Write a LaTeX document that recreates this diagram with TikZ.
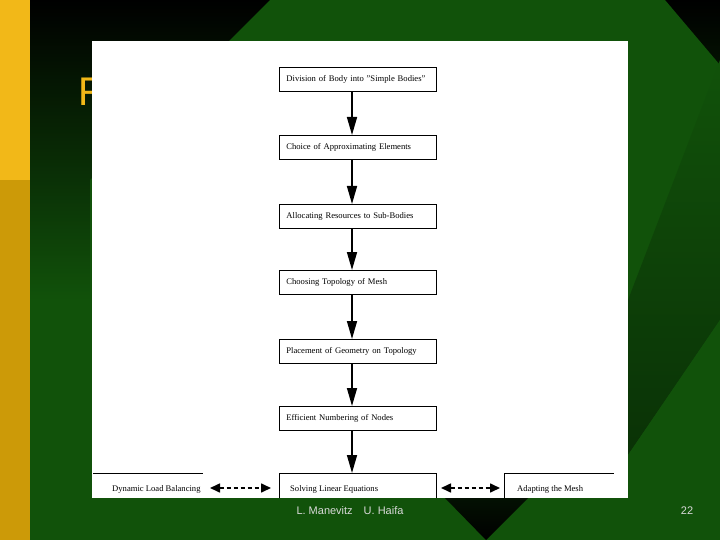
\documentclass[tikz,border=0pt]{standalone}
\usepackage{fontspec}
\setmainfont{Liberation Serif}
\newfontfamily\footfont{Liberation Sans}
\usetikzlibrary{arrows.meta}
\definecolor{ygold}{HTML}{F2B818}
\definecolor{ydark}{HTML}{CC9A08}
\definecolor{bgreen}{HTML}{11520A}
\definecolor{dgreen}{HTML}{0A3206}
\tikzset{
  flowbox/.style={draw,line width=0.8pt,minimum width=157pt,minimum height=24pt,anchor=north west,inner sep=0pt,text width=149pt,align=left,font=\fontsize{8.6}{9}\selectfont},
  lbl/.style={font=\fontsize{8.6}{9}\selectfont,anchor=west,inner sep=0pt},
  flowarrow/.style={line width=1.6pt,-{Triangle[length=18pt,width=10pt]}},
  dasharrow/.style={line width=1.6pt,dash pattern=on 4pt off 3pt,{Triangle[length=10pt,width=9pt]}-{Triangle[length=10pt,width=9pt]}}
}
\begin{document}
\begin{tikzpicture}[x=1pt,y=-1pt]
\useasboundingbox (0,0) rectangle (720,540);
% background
\shade[top color=black,bottom color=bgreen] (0,0) rectangle (720,300);
\fill[bgreen] (0,300) rectangle (720,540);
\fill[bgreen] (270,0) -- (665,0) -- (720,65) -- (720,320) -- (628,455) -- (628,540) -- (90,540) -- (90,180) -- cycle;
\shade[top color=bgreen,bottom color=dgreen] (720,60) -- (720,320) -- (628,455) -- (628,300) -- cycle;
\fill[bgreen] (720,320) -- (720,540) -- (628,540) -- (628,455) -- cycle;
\shade[top color=black!80!bgreen,bottom color=black] (445,498) -- (528,498) -- (486,540) -- cycle;
\fill[ygold] (0,0) rectangle (30,180);
\fill[ydark] (0,180) rectangle (30,540);
\node[text=ygold,font=\footfont\fontsize{40}{40}\selectfont,anchor=west,inner sep=0pt] (title) at (78,92) {F};
% white panel
\fill[white] (92,41) rectangle (628,498);
% boxes
\node[flowbox] (b1) at (279,67) {\hspace*{3pt}Division of Body into "Simple Bodies"};
\node[flowbox] (b2) at (279,135) {\hspace*{3pt}Choice of Approximating Elements};
\node[flowbox] (b3) at (279,204) {\hspace*{3pt}Allocating Resources to Sub-Bodies};
\node[flowbox] (b4) at (279,270) {\hspace*{3pt}Choosing Topology of Mesh};
\node[flowbox] (b5) at (279,339) {\hspace*{3pt}Placement of Geometry on Topology};
\node[flowbox] (b6) at (279,406) {\hspace*{3pt}Efficient Numbering of Nodes};
\node[lbl] (t7) at (290,489) {Solving Linear Equations};
\draw[line width=0.8pt] (279,498) |- (436,473) -- (436,498);
\draw[line width=0.8pt] (93,473) -- (203,473);
\node[lbl] (tl) at (112,489) {Dynamic Load Balancing};
\draw[line width=0.8pt] (504,498) |- (614,473);
\node[lbl] (tr) at (517,489) {Adapting the Mesh};
\coordinate (ax) at (352,0);
\coordinate (c7) at (352,473);
\coordinate (lr) at (210,488);
\coordinate (ml) at (271,488);
\coordinate (mr) at (441,488);
\coordinate (rl) at (500,488);
\foreach \a/\b in {b1/b2,b2/b3,b3/b4,b4/b5,b5/b6} \draw[flowarrow] (\a.south -| ax) -- (\b.north -| ax);
\draw[flowarrow] (b6.south -| ax) -- (c7);
\draw[dasharrow] (lr) -- (ml);
\draw[dasharrow] (mr) -- (rl);
% footer
\node[text=black!15,font=\footfont\fontsize{11}{12}\selectfont] (foot) at (350,511) {L. Manevitz\quad U. Haifa};
\node[text=black!15,font=\footfont\fontsize{11}{12}\selectfont] (pg) at (687,511) {22};
\end{tikzpicture}
\end{document}
